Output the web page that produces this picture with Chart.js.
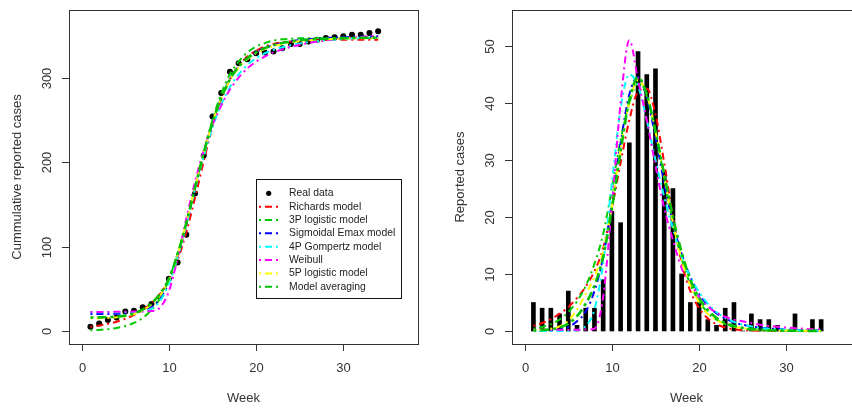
<!DOCTYPE html>
<html>
<head>
<meta charset="utf-8">
<script src="https://cdn.jsdelivr.net/npm/chart.js@4.4.1/dist/chart.umd.min.js"></script>
<style>
    html, body { margin: 0; padding: 0; background: #fff; overflow: hidden; width: 852px; height: 409px; }
    #cumChart { position: absolute; left: 0; top: 0; }
    #incChart { position: absolute; left: 426px; top: 0; }
</style>
</head>
<body>
<canvas id="cumChart" width="426" height="409"></canvas>
<canvas id="incChart" width="440" height="409"></canvas>
<script>
// Weeks and tick labels
const weeks = [1,2,3,4,5,6,7,8,9,10,11,12,13,14,15,16,17,18,19,20,21,22,23,24,25,26,27,28,29,30,31,32,33,34];
const weekTicks = [0, 10, 20, 30];
const cumTicks = [0, 100, 200, 300];
const incTicks = [0, 10, 20, 30, 40, 50];

// Observed data
const cumulativeCases = [5,9,13,16,23,24,28,32,41,62,81,114,163,208,254,282,307,317,322,329,330,331,335,340,340,343,345,347,348,349,351,351,353,355];
const weeklyCases = [5,4,4,3,7,1,4,4,9,21,19,33,49,45,46,28,25,10,5,5,2,1,4,5,0,3,2,2,1,0,3,0,2,2];

// Fitted cumulative curves
const richardsCum = [5,6.5,8.5,11,14.5,19,25,33,44,60,84,117,158,201,242,274,298,314,325,332,337,340,342,343,344,344.5,344.8,345,345,345,345,345,345,345];
const logistic3Cum = [0.8,1.3,2.2,3.6,5.9,9.6,15.4,25,39,61,92,127,170,212,250,281,304,319,330,337,341,344,345.5,346.2,346.6,346.8,346.9,347,347,347,347,347,347,347];
const emaxCum = [20,20,20.1,20.3,20.8,22,24.5,29,38.5,58,88,125,168,210,247,276,298,313,323,330,335,338.5,341,343,344.5,345.5,346.3,347,347.5,348,348.3,348.6,348.8,349];
const gompertzCum = [22.3,22.3,22.3,22.3,22.3,22.4,23,26,36,56,87,126,168,207,241,268,289,304,315,323,329,333,336,338.5,340.5,342,343.2,344.2,345,345.7,346.3,346.8,347.2,347.5];
const weibullCum = [22.5,22.5,22.6,22.7,22.8,23,23.2,23.6,28,47,86,133,177,214,244,267,286,300,311,319,325,330,333.5,336.5,339,341,342.8,344.2,345.5,346.6,347.5,348.3,349,349.6];
const logistic5Cum = [15,15.2,15.5,16.2,17.5,20,24.5,31.5,42,60,90,128,170,211,247,276,297,312,322,329,334,337.5,340,342,343.3,344.3,345,345.6,346,346.3,346.5,346.7,346.8,347];
const averageCum = [16,16.1,16.4,17,18.2,20.8,25.5,33,44,62,91,128,170,211,247,276,298,313,323,330,335,338.5,341,343,344.3,345.2,345.8,346.3,346.6,346.9,347.1,347.3,347.4,347.5];

// Fitted weekly curves
const richardsInc = [0.9,1.4,2.1,3,4.2,5.8,7.8,10.5,14.5,21.5,29.5,37,42,42.5,38,29.5,20,12,7,4,2.2,1.2,0.6,0.3,0.15,0.08,0.04,0.02,0.01,0,0,0,0,0];
const logistic3Inc = [0.4,0.7,1.2,2,3.3,5.2,7.9,11.8,17,25,33.5,40,43.4,41.2,35,26.8,19,12.7,8.2,5.2,3.2,2,1.2,0.75,0.45,0.27,0.16,0.1,0.06,0.04,0.02,0.01,0.01,0];
const emaxInc = [0,0,0.05,0.2,0.7,1.7,3.4,7,13,22.5,33,41.5,44.5,41,34,26,19,13.5,9.5,6.5,4.5,3.1,2.2,1.5,1.1,0.8,0.6,0.45,0.35,0.27,0.2,0.16,0.13,0.1];
const gompertzInc = [0,0,0,0,0.02,0.15,0.9,3.8,12,26,39,45,43,37,30,23.5,18,13,9.5,6.8,4.8,3.3,2.3,1.6,1.1,0.8,0.55,0.4,0.28,0.2,0.14,0.1,0.07,0.05];
const weibullInc = [0.2,0.2,0.2,0.2,0.2,0.2,0.25,0.4,6,22,40,51,44,37,29,21.5,16,11,8.5,6,4.3,3.2,2.5,2,1.7,1.4,1.1,0.9,0.75,0.6,0.5,0.4,0.3,0.25];
const logistic5Inc = [0.1,0.2,0.4,0.8,1.8,3.8,6.5,9.5,14,22,32,40,44,41.5,35,27,19,12.5,8,5,3,1.9,1.2,0.8,0.5,0.3,0.2,0.15,0.1,0.07,0.05,0.03,0.02,0.01];
const averageInc = [0.1,0.15,0.3,0.6,1.3,2.6,4.8,8,13,21.5,31.5,40.5,44.5,41.5,35,27.5,20,13.8,9,5.8,3.7,2.3,1.4,0.9,0.55,0.35,0.22,0.14,0.09,0.06,0.04,0.03,0.02,0.01];

const modelNames = ['Richards model', '3P logistic model', 'Sigmoidal Emax model', '4P Gompertz model', 'Weibull', '5P logistic model', 'Model averaging'];
const modelColors = ['#FF0000', '#00CD00', '#0000FF', '#00FFFF', '#FF00FF', '#FFFF00', '#00C000'];

const FONT = '"Liberation Sans", Arial, sans-serif';
const INK = '#333';

// Model curves as dot-dash lines, last model on top
const modelSets = (models) => models.map((vals, i) => ({
    type: 'line',
    label: modelNames[i],
    data: weeks.map((w, k) => ({ x: w, y: vals[k] })),
    borderColor: modelColors[i],
    borderWidth: i === 6 ? 2.6 : 2,
    borderDash: i === 6 ? [3, 4, 9, 4] : [2, 4, 7, 4],
    pointRadius: 0,
    fill: false,
    cubicInterpolationMode: 'monotone',
    order: 7 - i
}));

// Box, ticks and titles drawn R-style from the chart's scales
const rAxes = (cfg) => ({
    id: 'rAxes',
    afterDraw(chart) {
        const { ctx, chartArea: a } = chart;
        const xs = chart.scales.x, ys = chart.scales.y;
        ctx.save();
        ctx.strokeStyle = INK;
        ctx.fillStyle = INK;
        ctx.lineWidth = 1;
        ctx.setLineDash([]);
        ctx.strokeRect(Math.round(a.left) + 0.5, Math.round(a.top) + 0.5, Math.round(a.right - a.left), Math.round(a.bottom - a.top));
        ctx.font = '13px ' + FONT;
        ctx.textAlign = 'center';
        ctx.textBaseline = 'middle';
        cfg.xTicks.forEach(v => {
            const px = Math.round(xs.getPixelForValue(v)) + 0.5;
            ctx.beginPath();
            ctx.moveTo(px, a.bottom);
            ctx.lineTo(px, a.bottom + 7);
            ctx.stroke();
            ctx.fillText(String(v), px, a.bottom + 24);
        });
        cfg.yTicks.forEach(v => {
            const py = Math.round(ys.getPixelForValue(v)) + 0.5;
            ctx.beginPath();
            ctx.moveTo(a.left - 7, py);
            ctx.lineTo(a.left, py);
            ctx.stroke();
            ctx.save();
            ctx.translate(a.left - 22, py);
            ctx.rotate(-Math.PI / 2);
            ctx.fillText(String(v), 0, 0);
            ctx.restore();
        });
        ctx.fillText(cfg.xTitle, (a.left + a.right) / 2, a.bottom + 54);
        ctx.save();
        ctx.translate(a.left - 52, (a.top + a.bottom) / 2);
        ctx.rotate(-Math.PI / 2);
        ctx.fillText(cfg.yTitle, 0, 0);
        ctx.restore();
        ctx.restore();
    }
});

// Legend box inside the left panel
const rLegend = {
    id: 'rLegend',
    afterDraw(chart) {
        const ctx = chart.ctx;
        const bx = 256, by = 179, bw = 145, bh = 119, step = 13.35;
        ctx.save();
        ctx.fillStyle = '#fff';
        ctx.fillRect(bx, by, bw, bh);
        ctx.strokeStyle = '#111';
        ctx.lineWidth = 1;
        ctx.strokeRect(bx + 0.5, by + 0.5, bw, bh);
        ctx.font = '10.4px ' + FONT;
        ctx.textBaseline = 'middle';
        ctx.textAlign = 'left';
        const entries = ['Real data'].concat(modelNames);
        entries.forEach((name, i) => {
            const y = by + 14.3 + i * step;
            if (i === 0) {
                ctx.fillStyle = '#000';
                ctx.beginPath();
                ctx.arc(bx + 12.7, y, 2.6, 0, Math.PI * 2);
                ctx.fill();
            } else {
                ctx.strokeStyle = modelColors[i - 1];
                ctx.lineWidth = 2;
                ctx.setLineDash([2, 4, 7, 4]);
                ctx.beginPath();
                ctx.moveTo(bx + 3, y);
                ctx.lineTo(bx + 23, y);
                ctx.stroke();
                ctx.setLineDash([]);
            }
            ctx.fillStyle = '#222';
            ctx.fillText(name, bx + 33, y);
        });
        ctx.restore();
    }
};

const baseOptions = (pad, yMin, yMax) => ({
    responsive: false,
    animation: false,
    layout: { padding: pad },
    plugins: { legend: { display: false }, tooltip: { enabled: false } },
    scales: {
        x: { type: 'linear', min: -1.456, max: 38.57, offset: false, display: false },
        y: { type: 'linear', min: yMin, max: yMax, display: false }
    }
});

new Chart(document.getElementById('cumChart'), {
    type: 'line',
    data: {
        datasets: [{
            type: 'line',
            label: 'Real data',
            data: weeks.map((w, k) => ({ x: w, y: cumulativeCases[k] })),
            showLine: false,
            pointRadius: 3,
            pointBackgroundColor: '#000',
            pointBorderWidth: 0,
            order: 8
        }].concat(modelSets([richardsCum, logistic3Cum, emaxCum, gompertzCum, weibullCum, logistic5Cum, averageCum]))
    },
    options: baseOptions({ left: 69, top: 10, right: 8, bottom: 65 }, -15.4, 380.2),
    plugins: [rAxes({ xTicks: weekTicks, yTicks: cumTicks, xTitle: 'Week', yTitle: 'Cummulative reported cases' }), rLegend]
});

new Chart(document.getElementById('incChart'), {
    type: 'line',
    data: {
        datasets: [{
            type: 'bar',
            label: 'Real data',
            data: weeks.map((w, k) => ({ x: w, y: weeklyCases[k] })),
            backgroundColor: '#000',
            borderWidth: 0,
            barThickness: 4,
            order: 8
        }].concat(modelSets([richardsInc, logistic3Inc, emaxInc, gompertzInc, weibullInc, logistic5Inc, averageInc]))
    },
    options: baseOptions({ left: 86, top: 10, right: 5, bottom: 65 }, -2.28, 56.31),
    plugins: [rAxes({ xTicks: weekTicks, yTicks: incTicks, xTitle: 'Week', yTitle: 'Reported cases' })]
});
</script>
</body>
</html>
